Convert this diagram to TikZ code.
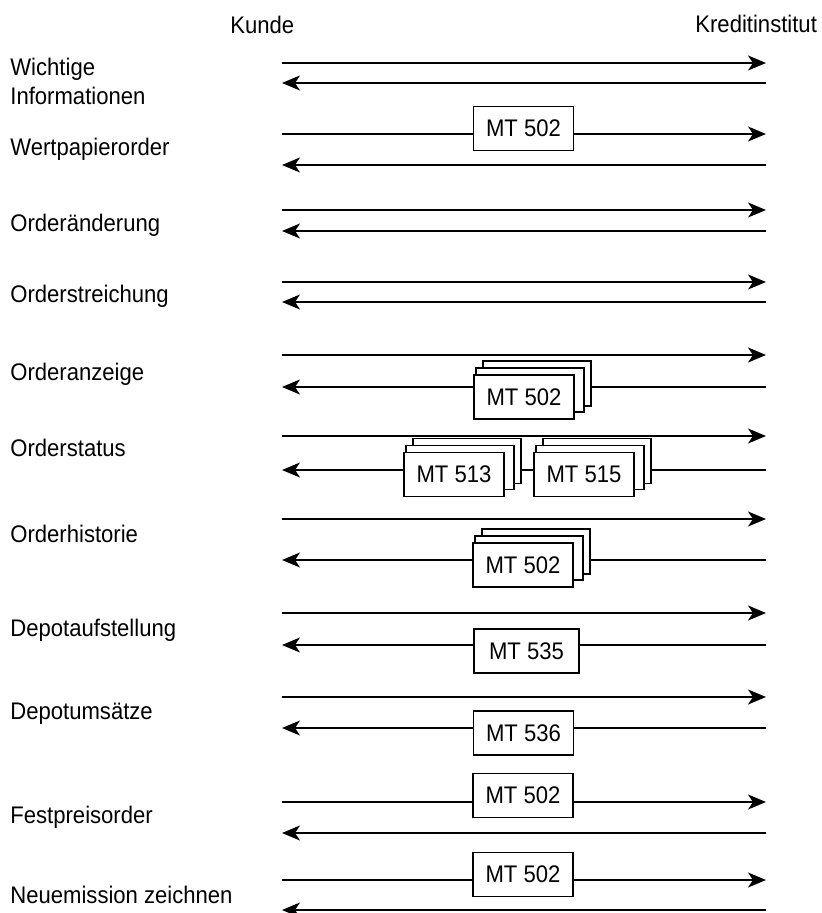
\documentclass[tikz,border=0pt]{standalone}
\usepackage{fontspec}
\setmainfont{Liberation Sans}[FakeStretch=0.92]
\usetikzlibrary{arrows.meta}
\newcommand{\STACK}[2]{%
  \draw[mtpage] (#1-41,#2-36) rectangle (#1+67,#2+9);
  \draw[mtpage] (#1-48,#2-29) rectangle (#1+60,#2+15);}

\begin{document}
\begin{tikzpicture}[x=0.5pt,y=-0.5pt,font=\fontsize{12}{14.5}\selectfont,
   msg/.style={line width=1pt,-{Stealth[length=9pt,width=7.5pt,inset=2.5pt]}},
   mtpage/.style={draw,fill=white,line width=0.8pt},
   mtbox/.style={mtpage,minimum width=50pt,minimum height=22pt,inner sep=0pt},
   lbl/.style={anchor=base west,inner sep=0pt,align=left}]
   \useasboundingbox (0,0) rectangle (821,913);
   \node (kunde) at (230,34) [lbl] {Kunde};
   \node (kredit) at (695,33) [lbl] {Kreditinstitut};
   \node (wichtig) at (10,105) [lbl] {Wichtige\\Informationen};
   \node (wertpapier) at (10,156) [lbl] {Wertpapierorder};
   \node (aenderung) at (10,232) [lbl] {Orderänderung};
   \node (streichung) at (10,303) [lbl] {Orderstreichung};
   \node (anzeige) at (10,381) [lbl] {Orderanzeige};
   \node (status) at (10,457) [lbl] {Orderstatus};
   \node (historie) at (10,542) [lbl] {Orderhistorie};
   \node (aufstellung) at (10,636) [lbl] {Depotaufstellung};
   \node (umsaetze) at (10,719) [lbl] {Depotumsätze};
   \node (festpreis) at (10,823) [lbl] {Festpreisorder};
   \node (emission) at (10,903) [lbl] {Neuemission zeichnen};
   \foreach \n/\yf/\yb in {1/63/83,2/134/165,3/210/231,4/282/302,5/355/387,6/436/470,
                           7/519/560,8/613/645,9/697/728,10/802/833,11/880/910} {
      \coordinate (kunde\n) at (282,\yf);
      \coordinate (kredit\n) at (766,\yf);
      \coordinate (kundeback\n) at (282,\yb);
      \coordinate (kreditback\n) at (766,\yb);
      \draw[msg] (kunde\n) -- (kredit\n);
      \draw[msg] (kreditback\n) -- (kundeback\n);
   }
   \node (mt2) at (523.5,128.5) [mtbox] {MT 502};
   \STACK{524}{397}
   \node (mt5) at (524,397) [mtbox] {MT 502};
   \STACK{454}{474.5}
   \node (mt6a) at (454,474.5) [mtbox] {MT 513};
   \STACK{584}{474.5}
   \node (mt6b) at (584,474.5) [mtbox] {MT 515};
   \STACK{523}{565}
   \node (mt7) at (523,565) [mtbox] {MT 502};
   \node (mt8) at (526.5,651) [mtbox,minimum width=52.5pt] {MT 535};
   \node (mt9) at (523.5,733) [mtbox] {MT 536};
   \node (mt10) at (523,795.5) [mtbox] {MT 502};
   \node (mt11) at (523,874.5) [mtbox] {MT 502};
\end{tikzpicture}
\end{document}
